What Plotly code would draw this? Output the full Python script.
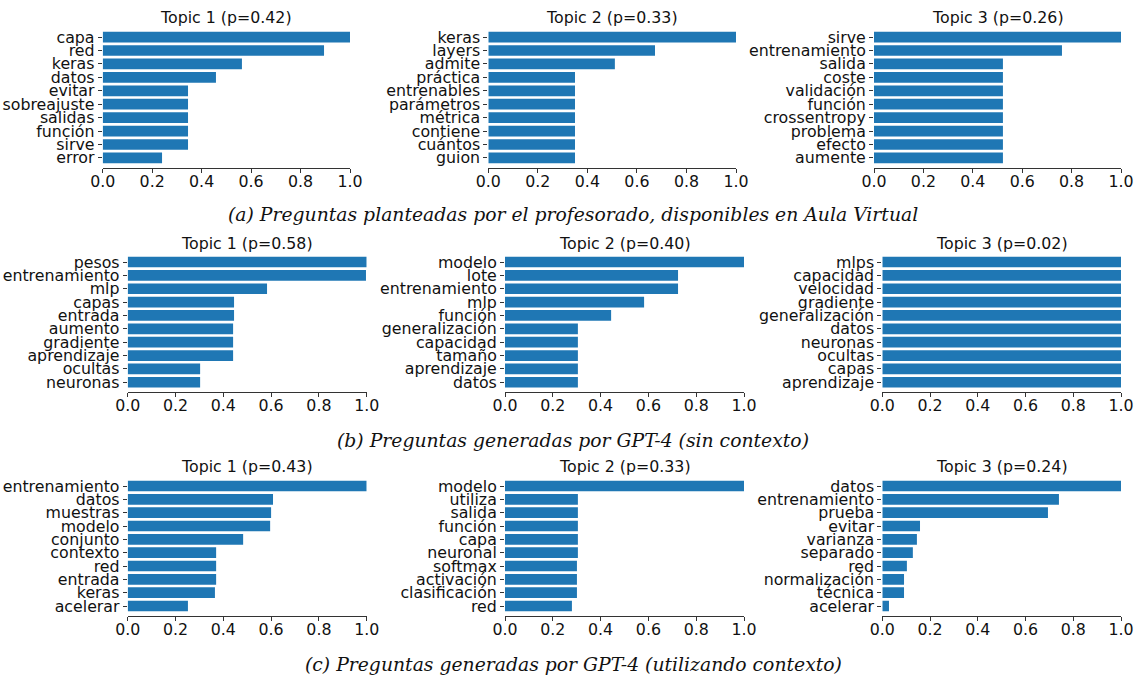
import plotly.graph_objects as go

# ---- topic word weights (normalised to the top word of each topic) ----
a1_words = ["capa", "red", "keras", "datos", "evitar", "sobreajuste", "salidas", "función", "sirve", "error"]
a1_vals = [1.0, 0.895, 0.563, 0.458, 0.345, 0.345, 0.345, 0.345, 0.345, 0.24]
a2_words = ["keras", "layers", "admite", "práctica", "entrenables", "parámetros", "métrica", "contiene", "cuántos", "guion"]
a2_vals = [1.0, 0.673, 0.511, 0.35, 0.35, 0.35, 0.35, 0.35, 0.35, 0.35]
a3_words = ["sirve", "entrenamiento", "salida", "coste", "validación", "función", "crossentropy", "problema", "efecto", "aumente"]
a3_vals = [1.0, 0.761, 0.522, 0.522, 0.522, 0.522, 0.522, 0.522, 0.522, 0.522]

b1_words = ["pesos", "entrenamiento", "mlp", "capas", "entrada", "aumento", "gradiente", "aprendizaje", "ocultas", "neuronas"]
b1_vals = [1.0, 0.997, 0.583, 0.445, 0.445, 0.441, 0.441, 0.441, 0.303, 0.303]
b2_words = ["modelo", "lote", "entrenamiento", "mlp", "función", "generalización", "capacidad", "tamaño", "aprendizaje", "datos"]
b2_vals = [1.0, 0.724, 0.724, 0.582, 0.444, 0.305, 0.305, 0.305, 0.305, 0.305]
b3_words = ["mlps", "capacidad", "velocidad", "gradiente", "generalización", "datos", "neuronas", "ocultas", "capas", "aprendizaje"]
b3_vals = [1.0, 1.0, 1.0, 1.0, 1.0, 1.0, 1.0, 1.0, 1.0, 1.0]

c1_words = ["entrenamiento", "datos", "muestras", "modelo", "conjunto", "contexto", "red", "entrada", "keras", "acelerar"]
c1_vals = [1.0, 0.608, 0.600, 0.596, 0.483, 0.370, 0.370, 0.370, 0.365, 0.252]
c2_words = ["modelo", "utiliza", "salida", "función", "capa", "neuronal", "softmax", "activación", "clasificación", "red"]
c2_vals = [1.0, 0.305, 0.305, 0.305, 0.305, 0.305, 0.301, 0.301, 0.301, 0.280]
c3_words = ["datos", "entrenamiento", "prueba", "evitar", "varianza", "separado", "red", "normalización", "técnica", "acelerar"]
c3_vals = [1.0, 0.740, 0.694, 0.158, 0.145, 0.128, 0.103, 0.091, 0.091, 0.028]

a_probs = ["0.42", "0.33", "0.26"]
b_probs = ["0.58", "0.40", "0.02"]
c_probs = ["0.43", "0.33", "0.24"]

captions = [
    "(a) Preguntas planteadas por el profesorado, disponibles en Aula Virtual",
    "(b) Preguntas generadas por GPT-4 (sin contexto)",
    "(c) Preguntas generadas por GPT-4 (utilizando contexto)",
]

W, H = 1144, 678
BAR = "#1f77b4"
TXT = "#111111"
FONT = "DejaVu Sans"
FS = 15.8

rows = [
    [(a1_words, a1_vals), (a2_words, a2_vals), (a3_words, a3_vals)],
    [(b1_words, b1_vals), (b2_words, b2_vals), (b3_words, b3_vals)],
    [(c1_words, c1_vals), (c2_words, c2_vals), (c3_words, c3_vals)],
]
probs = [a_probs, b_probs, c_probs]

# pixel layout of the axes boxes (left, right) per row and (top, bottom)
x_px = [
    [(102.7, 350.0), (488.3, 736.0), (874.0, 1121.0)],
    [(127.7, 366.7), (505.0, 744.0), (882.3, 1121.0)],
    [(127.7, 366.7), (505.0, 744.0), (882.3, 1121.0)],
]
y_px = [(27.0, 168.0), (252.0, 392.3), (476.0, 616.0)]
title_y_px = [17.5, 243.0, 466.5]
caption_y_px = [215.0, 440.0, 664.0]

fig = go.Figure()
annotations = []
layout = {}
k = 0
for r in range(3):
    for c in range(3):
        k += 1
        words, vals = rows[r][c]
        xa = "x" if k == 1 else f"x{k}"
        ya = "y" if k == 1 else f"y{k}"
        fig.add_trace(go.Bar(
            x=vals, y=words, orientation="h",
            marker=dict(color=BAR, line=dict(width=0)),
            xaxis=xa, yaxis=ya, showlegend=False, hoverinfo="x+y",
        ))
        x0, x1 = x_px[r][c]
        top, bot = y_px[r]
        layout["xaxis" if k == 1 else f"xaxis{k}"] = dict(
            domain=[x0 / W, x1 / W], anchor=ya, range=[0, 1],
            tickmode="array", tickvals=[0, 0.2, 0.4, 0.6, 0.8, 1.0],
            ticktext=["0.0", "0.2", "0.4", "0.6", "0.8", "1.0"],
            ticks="outside", ticklen=4, tickwidth=1, tickcolor="#333",
            showline=True, linecolor="#333", linewidth=1,
            showgrid=False, zeroline=False, ticklabelstandoff=-5,
            automargin=False,
            tickfont=dict(family=FONT, size=FS, color=TXT),
        )
        layout["yaxis" if k == 1 else f"yaxis{k}"] = dict(
            domain=[1 - bot / H, 1 - top / H], anchor=xa,
            type="category", categoryorder="array", categoryarray=words,
            tickmode="array", tickvals=words, ticktext=words,
            range=[9.75, -0.75],
            ticks="outside", ticklen=4, tickwidth=1, tickcolor="#333",
            showline=False, showgrid=False, zeroline=False,
            ticklabelstandoff=0, automargin=False,
            tickfont=dict(family=FONT, size=FS, color=TXT),
        )
        annotations.append(dict(
            text=f"Topic {c + 1} (p={probs[r][c]})",
            x=(x0 + x1) / 2 / W, y=1 - title_y_px[r] / H,
            xref="paper", yref="paper", xanchor="center", yanchor="middle",
            showarrow=False, font=dict(family=FONT, size=FS, color=TXT),
        ))

for r in range(3):
    annotations.append(dict(
        text=f"<i>{captions[r]}</i>",
        x=573 / W, y=1 - caption_y_px[r] / H,
        xref="paper", yref="paper", xanchor="center", yanchor="middle",
        showarrow=False, font=dict(family="DejaVu Serif", size=18.8, color=TXT),
    ))

fig.update_layout(
    **layout,
    annotations=annotations,
    width=W, height=H,
    margin=dict(l=0, r=0, t=0, b=0, pad=0, autoexpand=False),
    paper_bgcolor="white", plot_bgcolor="white",
    bargap=0.2,
)

fig.write_html("out.html")
